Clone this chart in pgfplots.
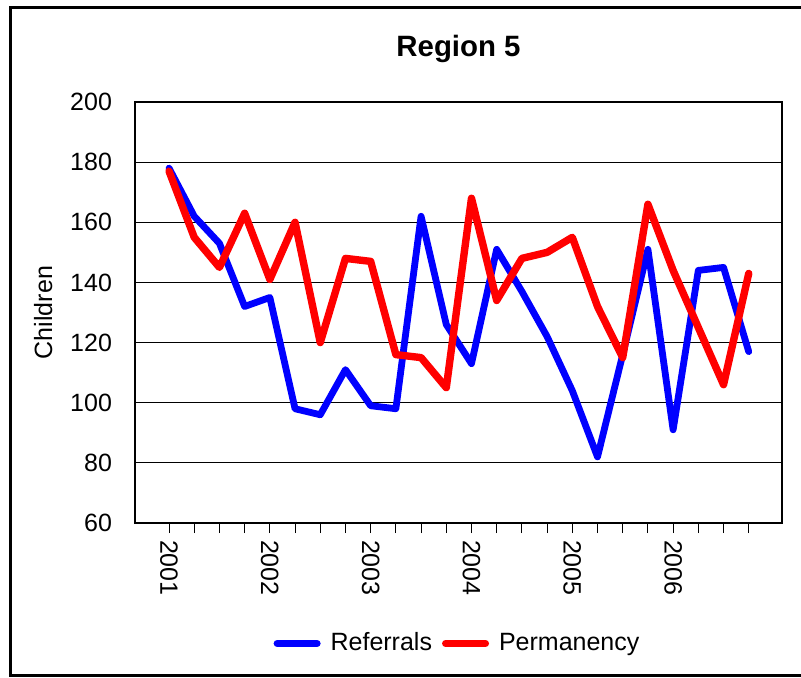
\documentclass[border=0pt]{standalone}
\usepackage{pgfplots}
\pgfplotsset{compat=1.18}
\usepackage{fontspec}
\setmainfont{Liberation Sans}

\pgfplotstableread{
idx ref perm
0 178 177
1 162 155
2 153 145
3 132 163
4 135 141
5 98 160
6 96 120
7 111 148
8 99 147
9 98 116
10 162 115
11 126 105
12 113 168
13 151 134
14 137 148
15 122 150
16 104 155
17 82 132
18 116 115
19 151 166
20 91 144
21 144 125
22 145 106
23 117 143
}\regiondata

\begin{document}
\begin{tikzpicture}
\useasboundingbox (-67.5pt,-77pt) rectangle (333pt,261.5pt);
\draw[line width=1.5pt] (-62pt,-76pt) rectangle (345pt,258pt);
\begin{axis}[
    at={(0pt,0pt)}, anchor=south west,
    scale only axis, width=323.5pt, height=210.5pt,
    xmin=-1.35, xmax=24.32, ymin=60, ymax=200,
    ytick={60,80,...,200},
    xtick={0,...,23},
    xticklabels={2001,,,,2002,,,,2003,,,,2004,,,,2005,,,,2006,,,},
    tick pos=left,
    tick align=outside, major tick length=5pt,
    ytick style={draw=none},
    xtick style={black, line width=0.5pt},
    ymajorgrids, grid style={black, line width=0.5pt},
    axis line style={black, line width=0.6pt},
    /pgf/number format/assume math mode=true,
    tick label style={font=\fontsize{12.5}{15}\selectfont},
    yticklabel style={xshift=-3pt},
    xticklabel style={rotate=-90, anchor=west},
    ylabel={Children},
    ylabel style={font=\fontsize{12.5}{15}\selectfont, at={(axis description cs:-0.142,0.5)}, anchor=center},
    title={Region 5},
    title style={font=\fontsize{14.7}{17}\selectfont\bfseries, at={(axis description cs:0.5,1)}, anchor=base, yshift=17pt},
    legend style={at={(axis description cs:0.5,-0.286)}, anchor=center, draw=none, fill=none,
        font=\fontsize{12.5}{15}\selectfont, legend columns=2,
        /tikz/every odd column/.append style={column sep=3pt},
        /tikz/every even column/.append style={column sep=3pt}},
    legend image code/.code={\draw[#1, line width=3.5pt, line cap=round] (0pt,0pt) -- (20pt,0pt);},
]
\addplot[blue, line width=3.4pt, line join=round, line cap=round] table[x=idx, y=ref] {\regiondata};
\addlegendentry{Referrals}
\addplot[red, line width=3.7pt, line join=round, line cap=round] table[x=idx, y=perm] {\regiondata};
\addlegendentry{Permanency}
\draw[black, line width=1.3pt] (rel axis cs:0,1) -- (rel axis cs:0,0) -- (rel axis cs:1,0);
\end{axis}
\end{tikzpicture}
\end{document}
